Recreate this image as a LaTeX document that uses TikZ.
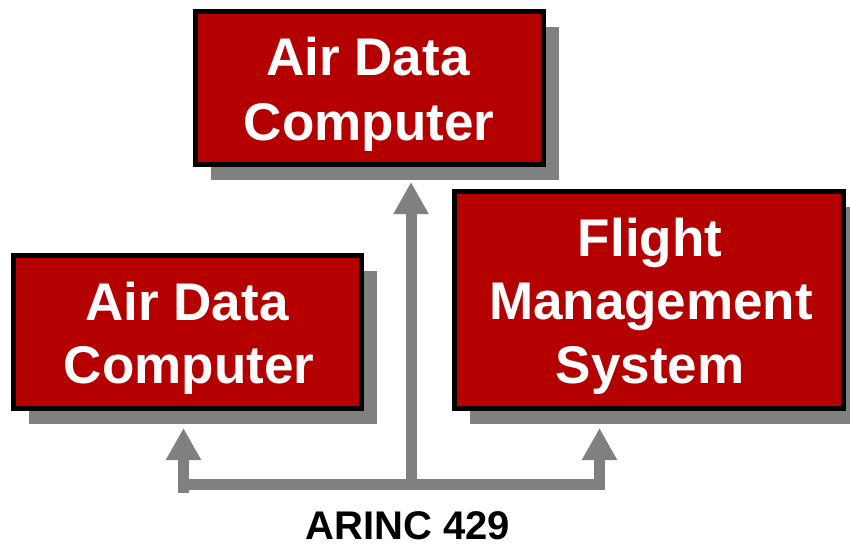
\documentclass[tikz,border=0pt]{standalone}
\usepackage{fontspec}
\setmainfont{Liberation Sans}
\usetikzlibrary{arrows.meta,calc}
\definecolor{boxred}{RGB}{181,0,0}
\definecolor{busgray}{RGB}{128,128,128}
\pgfdeclarelayer{shadowlayer}
\pgfsetlayers{shadowlayer,main}
\tikzset{
  unitbox/.style={draw=black, line width=5pt, fill=boxred, inner sep=0pt, outer sep=0pt},
  shadowbox/.style={fill=busgray, draw=none},
  boxtext/.style={text=white, font=\fontsize{53}{64}\selectfont\bfseries, inner sep=0pt, anchor=base},
  bus/.style={draw=busgray, line width=11pt, line join=miter, line cap=butt},
  busarrow/.style={bus, -{Triangle[width=33pt,length=32pt]}},
}
\begin{document}
\begin{tikzpicture}[x=1pt,y=-1pt]
\useasboundingbox (0,0) rectangle (850,546);
% boxes
\node[unitbox, minimum width=348pt, minimum height=153pt] (adc1) at (369.5,88) {};
\node[unitbox, minimum width=348pt, minimum height=153pt] (adc2) at (187.5,332) {};
\node[unitbox, minimum width=389pt, minimum height=217pt] (fms) at (649,300) {};
% shadows
\begin{pgfonlayer}{shadowlayer}
\foreach \b in {adc1,adc2,fms}{
  \fill[shadowbox] ($(\b.north west)+(15.5,15.5)$) rectangle ($(\b.south east)+(15.5,15.5)$);
}
\end{pgfonlayer}
% texts
\node[boxtext] (t1a) at (368,75) {Air Data};
\node[boxtext] (t1b) at (369,140) {Computer};
\node[boxtext] (t2a) at (187,320) {Air Data};
\node[boxtext] (t2b) at (189,383) {Computer};
\node[boxtext] (t3a) at (650,256) {Flight};
\node[boxtext] (t3b) at (651,319) {Management};
\node[boxtext] (t3c) at (650,383) {System};
% bus
\coordinate (busL) at (183.5,484);
\coordinate (busM) at (411,484);
\coordinate (busR) at (599.5,484);
\coordinate (tipL) at (183.5,428);
\coordinate (tipM) at (411,182);
\coordinate (tipR) at (599.5,428);
\draw[bus] ($(busL)+(0,9)$) -- (busL) -- (busR);
\draw[busarrow] ($(busL)+(0,5.5)$) -- (tipL);
\draw[busarrow] ($(busM)+(0,5.5)$) -- (tipM);
\draw[busarrow] ($(busR)+(0,5.5)$) -- (tipR);
\node[font=\fontsize{40}{46}\selectfont\bfseries, anchor=base, inner sep=0pt] (arinc) at (408,539) {ARINC 429};
\end{tikzpicture}
\end{document}
